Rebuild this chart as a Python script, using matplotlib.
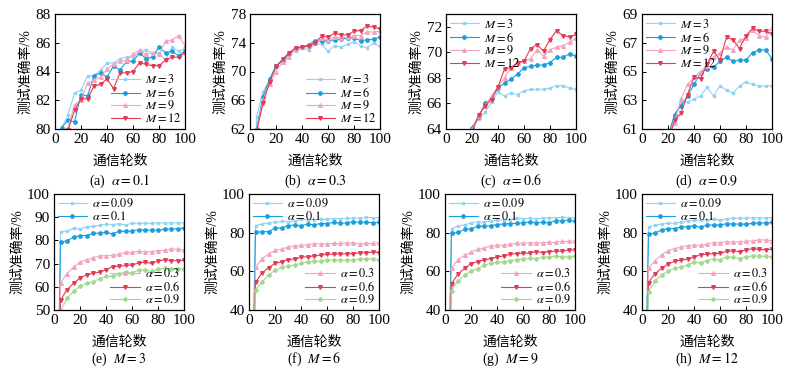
import matplotlib
matplotlib.use("Agg")
import matplotlib.pyplot as plt

plt.rcParams['font.family'] = ['Liberation Serif', 'Noto Sans CJK SC']
plt.rcParams['mathtext.fontset'] = 'stix'

# ---------------- data ----------------
rounds = [3, 5, 10, 15, 20, 25, 30, 35, 40, 45, 50, 55, 60, 65, 70, 75, 80, 85, 90, 95, 100]

# top row: fixed alpha, series per M
a01_M3 = [10, 80.0, 81.0, 82.5, 82.7, 83.7, 83.7, 84.1, 84.6, 84.6, 84.9, 85.0, 85.0, 85.4, 85.5, 85.3, 85.3, 84.8, 85.7, 85.4, 85.6]
a01_M6 = [10, 80.1, 80.6, 80.5, 82.4, 82.3, 83.7, 83.9, 83.6, 84.4, 84.1, 84.7, 84.7, 85.3, 84.9, 85.0, 85.7, 85.3, 85.4, 85.1, 85.4]
a01_M9 = [10, 79.6, 80.1, 81.7, 82.0, 83.2, 83.4, 83.6, 84.2, 84.5, 84.7, 84.8, 85.2, 85.5, 85.2, 85.3, 85.2, 86.1, 86.2, 86.5, 85.8]
a01_M12 = [10, 79.1, 79.9, 81.3, 82.1, 82.1, 83.0, 83.1, 83.5, 82.8, 83.9, 83.9, 84.0, 84.6, 84.5, 84.4, 84.4, 84.8, 85.0, 85.0, 85.3]

a03_M3 = [10, 63.7, 67.2, 68.8, 70.6, 71.5, 72.3, 72.9, 73.3, 73.0, 73.9, 73.8, 72.8, 73.6, 73.4, 73.8, 74.1, 73.6, 73.3, 73.9, 73.5]
a03_M6 = [10, 62.0, 66.5, 68.9, 70.8, 71.5, 72.5, 73.2, 73.4, 73.7, 74.3, 74.2, 74.3, 74.4, 74.5, 74.6, 74.7, 74.3, 74.4, 74.5, 74.8]
a03_M9 = [10, 61.8, 66.0, 68.2, 70.0, 71.3, 72.0, 73.2, 73.4, 73.5, 73.9, 74.6, 74.4, 74.8, 74.7, 74.8, 75.0, 75.0, 75.5, 75.5, 75.6]
a03_M12 = [10, 61.6, 65.6, 68.5, 70.7, 71.7, 72.6, 73.3, 73.4, 73.5, 74.0, 74.9, 74.8, 75.3, 75.1, 75.1, 75.6, 75.7, 76.3, 76.2, 75.9]

a06_M3 = [10, 54.0, 58.6, 61.6, 64.0, 64.8, 65.3, 66.1, 66.9, 66.6, 66.8, 66.7, 67.0, 67.1, 67.1, 67.1, 67.2, 67.4, 67.4, 67.2, 67.1]
a06_M6 = [10, 54.3, 59.2, 61.8, 64.1, 64.9, 66.0, 66.4, 67.2, 67.6, 67.9, 68.3, 68.8, 68.9, 69.0, 69.0, 69.2, 69.6, 69.6, 69.9, 69.7]
a06_M9 = [10, 53.6, 58.6, 61.5, 64.0, 65.0, 65.8, 66.6, 67.3, 68.0, 68.8, 69.2, 69.3, 69.5, 70.2, 69.7, 70.2, 70.4, 70.5, 70.8, 71.1]
a06_M12 = [10, 54.2, 58.8, 61.5, 63.8, 65.1, 65.8, 66.3, 67.3, 68.7, 68.8, 69.2, 69.3, 70.3, 70.6, 70.1, 71.0, 71.7, 71.3, 71.2, 71.4]

a09_M3 = [10, 50.0, 55.0, 58.0, 60.3, 62.0, 62.8, 62.9, 63.1, 63.3, 63.9, 63.3, 64.0, 63.7, 63.5, 64.0, 64.3, 64.1, 64.0, 64.0, 64.0]
a09_M6 = [10, 50.5, 54.5, 58.2, 60.5, 62.0, 62.6, 63.3, 64.1, 64.9, 65.2, 65.3, 65.7, 66.0, 65.7, 65.8, 65.8, 66.3, 66.5, 66.5, 65.9]
a09_M9 = [10, 50.0, 55.0, 58.0, 60.2, 61.4, 63.1, 64.1, 64.6, 65.0, 65.4, 66.0, 66.3, 66.7, 66.5, 67.2, 67.3, 67.9, 67.5, 67.4, 68.0]
a09_M12 = [10, 49.5, 55.0, 58.0, 60.2, 61.6, 62.1, 63.4, 64.6, 64.5, 65.5, 66.4, 65.8, 67.4, 67.2, 66.6, 67.5, 68.0, 67.8, 67.8, 67.6]

# bottom row: alpha = 0.09 series per panel
e_a009 = [10, 83.8, 84.0, 85.2, 85.0, 85.8, 86.0, 86.5, 87.0, 86.8, 87.2, 86.6, 87.4, 87.4, 87.4, 87.3, 87.6, 87.5, 87.6, 87.6, 87.6]
f_a009 = [10, 83.6, 84.5, 85.0, 85.5, 85.8, 85.6, 86.0, 87.0, 86.7, 86.8, 86.9, 87.0, 87.2, 87.3, 87.4, 87.5, 87.6, 87.9, 87.8, 87.8]
g_a009 = [10, 82.0, 83.5, 84.0, 85.0, 85.5, 85.5, 86.0, 86.5, 86.5, 86.7, 87.5, 87.3, 87.4, 87.3, 87.5, 87.8, 87.7, 87.9, 87.8, 87.6]
h_a009 = [10, 83.0, 83.8, 84.5, 85.0, 84.8, 85.5, 86.0, 86.3, 86.5, 86.5, 87.0, 86.5, 87.2, 87.5, 87.5, 87.6, 87.7, 87.7, 87.6, 87.8]

M_labels = ['3', '6', '9', '12']
alpha_labels = ['0.09', '0.1', '0.3', '0.6', '0.9']
top_titles = ['(a)', '(b)', '(c)', '(d)']
top_alphas = ['0.1', '0.3', '0.6', '0.9']
bottom_titles = ['(e)', '(f)', '(g)', '(h)']
bottom_Ms = ['3', '6', '9', '12']

top_series = [
    [a01_M3, a01_M6, a01_M9, a01_M12],
    [a03_M3, a03_M6, a03_M9, a03_M12],
    [a06_M3, a06_M6, a06_M9, a06_M12],
    [a09_M3, a09_M6, a09_M9, a09_M12],
]
bottom_series = [
    [e_a009, a01_M12, a03_M12, a06_M12, a09_M12],
    [f_a009, a01_M6, a03_M6, a06_M6, a09_M6],
    [g_a009, a01_M9, a03_M9, a06_M9, a09_M9],
    [h_a009, a01_M12, a03_M12, a06_M12, a09_M12],
]

top_ylims = [(80, 88), (62, 78), (64, 73), (61, 69)]
top_yticks = [[80, 82, 84, 86, 88], [62, 66, 70, 74, 78], [64, 66, 68, 70, 72], [61, 63, 65, 67, 69]]
bottom_ylims = [(50, 100), (40, 100), (40, 100), (40, 100)]
bottom_yticks = [[50, 60, 70, 80, 90, 100], [40, 60, 80, 100], [40, 60, 80, 100], [40, 60, 80, 100]]
top_legend_loc = ['lower right', 'lower right', 'upper left', 'upper left']

# ---------------- styles ----------------
C_LB = '#8fd4f2'
C_B = '#1a9fdc'
C_PK = '#f2a5bf'
C_RD = '#e53a55'
C_GR = '#a3d98c'
M_styles = [(C_LB, 's', 2.0), (C_B, 'o', 2.4), (C_PK, '^', 2.6), (C_RD, 'v', 2.6)]
A_styles = [(C_LB, 's', 2.0), (C_B, 'o', 2.4), (C_PK, '^', 2.6), (C_RD, 'v', 2.6), (C_GR, 'D', 2.0)]

fig = plt.figure(figsize=(7.98, 3.72), dpi=100)
W, H = 798.0, 372.0

top_lefts = [55, 250, 446, 642]
bot_lefts = [54, 249, 445, 642]
axw = 130

leg_kw = dict(frameon=False, fontsize=8.8, handlelength=2.4, labelspacing=0.0,
              borderaxespad=0.1, handletextpad=0.4, borderpad=0.2)


def style_axis(ax, ylim, yticks):
    ax.set_xlim(0, 100)
    ax.set_ylim(*ylim)
    ax.set_xticks([0, 20, 40, 60, 80, 100])
    ax.set_yticks(yticks)
    ax.tick_params(direction='in', length=3, width=0.7, labelsize=11, pad=3)
    for s in ax.spines.values():
        s.set_linewidth(0.9)
    ax.set_ylabel('测试准确率/%', fontsize=10, labelpad=2)
    ax.set_xlabel('通信轮数', fontsize=10, labelpad=6)


for i in range(4):
    ax = fig.add_axes([top_lefts[i] / W, 1 - 129 / H, axw / W, 115 / H])
    for j, ys in enumerate(top_series[i]):
        c, m, ms = M_styles[j]
        ax.plot(rounds, ys, color=c, marker=m, markersize=ms, lw=0.8,
                markevery=slice(1, None), label=r'$M=' + M_labels[j] + '$')
    style_axis(ax, top_ylims[i], top_yticks[i])
    ax.legend(loc=top_legend_loc[i], **leg_kw)
    fig.text((top_lefts[i] + axw / 2) / W, 1 - 181 / H,
             top_titles[i] + r'  $\alpha=' + top_alphas[i] + '$',
             ha='center', va='center', fontsize=10)

for i in range(4):
    ax = fig.add_axes([bot_lefts[i] / W, 1 - 310 / H, axw / W, 116 / H])
    lines = []
    for j, ys in enumerate(bottom_series[i]):
        c, m, ms = A_styles[j]
        ln, = ax.plot(rounds, ys, color=c, marker=m, markersize=ms, lw=0.8,
                      markevery=slice(1, None), label=r'$\alpha=' + alpha_labels[j] + '$')
        lines.append(ln)
    style_axis(ax, bottom_ylims[i], bottom_yticks[i])
    leg1 = ax.legend(handles=lines[:2], loc='upper left', **leg_kw)
    ax.add_artist(leg1)
    ax.legend(handles=lines[2:], loc='lower right', **leg_kw)
    fig.text((bot_lefts[i] + axw / 2) / W, 1 - 359 / H,
             bottom_titles[i] + r'  $M=' + bottom_Ms[i] + '$',
             ha='center', va='center', fontsize=10)

fig.savefig('out.png', dpi=100)
